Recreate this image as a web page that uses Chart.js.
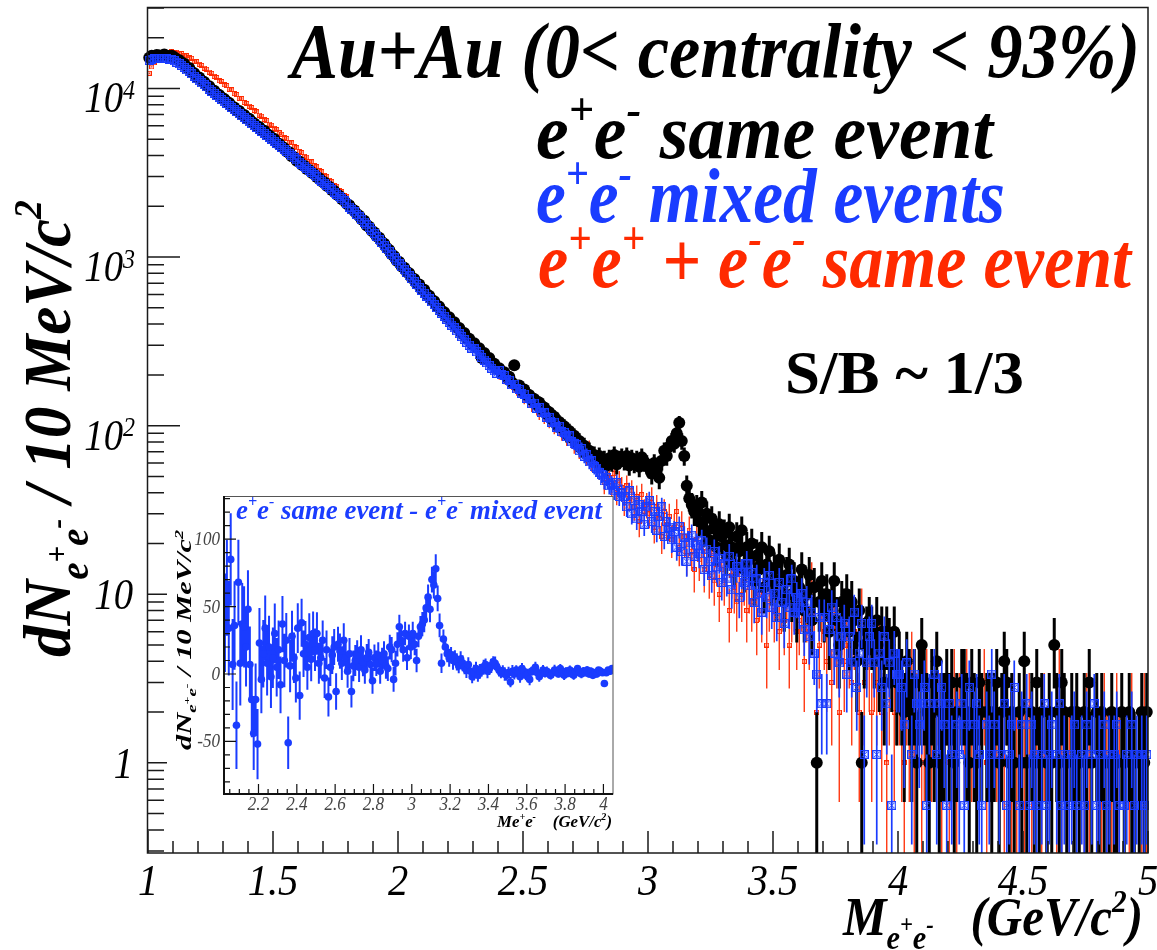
<!DOCTYPE html>
<html>
<head>
<meta charset="utf-8">
<title>Au+Au dielectron invariant mass</title>
<script src="https://cdn.jsdelivr.net/npm/chart.js@4.4.1/dist/chart.umd.min.js"></script>
<style>
  html, body { margin: 0; padding: 0; background: #ffffff; }
  #stage { position: relative; width: 1157px; height: 950px; overflow: hidden; }
  #mainChart { position: absolute; left: 0; top: 0; }
  #insetChart { position: absolute; left: 150px; top: 486px; }
</style>
</head>
<body>
<div id="stage">
  <canvas id="mainChart" width="1157" height="950"></canvas>
  <canvas id="insetChart" width="480" height="360"></canvas>
</div>
<script>
// bin centres, 10 MeV bins
const massBins = [];
for (let i = 0; i < 400; i++) massBins.push(Math.round((1.005 + 0.01 * i) * 1000) / 1000);
const insetBins = [];
for (let i = 0; i < 203; i++) insetBins.push(Math.round((2.025 + 0.01 * i) * 1000) / 1000);

const MIX_NORM = 0.56;

// e+e- same event
const sameEvent = [
  15200, 15600, 15400, 15800, 15700, 15600, 15900, 15600, 15500, 15600,
  15300, 14900, 14700, 14200, 14000, 13300, 13200, 12500, 12300, 11700,
  11600, 11100, 10900, 10400, 10300, 9800, 9700, 9300, 9150, 8800,
  8650, 8350, 8200, 7850, 7700, 7400, 7350, 7000, 6950, 6650,
  6600, 6350, 6200, 5980, 5900, 5620, 5610, 5380, 5250, 5100,
  5010, 4760, 4680, 4530, 4420, 4230, 4180, 3960, 3900, 3720,
  3690, 3520, 3480, 3330, 3280, 3160, 3110, 2980, 2930, 2810,
  2780, 2650, 2610, 2500, 2460, 2350, 2310, 2210, 2160, 2070,
  2030, 1930, 1890, 1800, 1760, 1670, 1640, 1540, 1510, 1430,
  1400, 1330, 1300, 1230, 1200, 1130, 1100, 1040, 1010, 950,
  935, 880, 865, 815, 800, 750, 740, 695, 688, 645,
  640, 602, 590, 557, 546, 512, 508, 478, 470, 442,
  440, 412, 410, 382, 380, 352, 354, 330, 328, 306,
  308, 290, 288, 252, 270, 250, 252, 234, 233, 218,
  219, 206, 207, 194, 195, 181, 228, 173, 173, 161,
  164, 151, 152, 142, 144, 133, 137, 125, 128, 117,
  120, 109, 113, 101, 105, 97, 99, 89, 93, 85,
  87, 79, 81, 73, 76, 69, 71, 65, 67, 63,
  66, 60, 63, 58, 64, 61, 67, 59, 63, 65,
  62, 66, 58, 64, 60, 63, 57, 65, 61, 59,
  56, 52, 60, 54, 49, 62, 71, 66, 75, 81,
  78, 90, 104, 81, 66, 44, 37, 34, 31, 33,
  27, 35, 24, 30, 21, 28, 25, 19, 26, 22,
  23, 17, 25, 19, 15, 22, 18, 24, 14, 19,
  16, 20, 12, 17, 14, 19, 11, 15, 18, 12,
  14, 10, 16, 12, 9, 13, 15, 10, 12, 8,
  11, 14, 8, 10, 13, 7, 11, 1, 9, 12,
  8, 10, 6, 9, 12, 7, 5, 9, 8, 10,
  6, 9, 7, 4, 8, 1, 5, 6, 7, 6,
  5, 7, 4, 6, 3, 6, 5, 4, 6, 3,
  4, 3, 2, 4, 3, 2, 3, 1, 3, 5,
  3, 2, 1, 3, 2, 4, 1, 2, 2, 3,
  2, 3, 1, 2, 0, 3, 3, 2, 1, 3,
  2, 1, 3, 2, 0, 2, 2, 1, 2, 3,
  1, 2, 4, 3, 1, 2, 1, 0, 2, 1,
  4, 1, 0, 2, 1, 3, 1, 2, 0, 1,
  2, 1, 5, 2, 1, 3, 2, 1, 0, 2,
  1, 2, 1, 0, 2, 1, 3, 1, 0, 2,
  1, 2, 1, 0, 1, 2, 1, 1, 0, 2,
  1, 0, 2, 1, 1, 0, 1, 2, 1, 2
];

// e+e- mixed events (normalised)
const mixedEvents = [
  14700, 14900, 15000, 15100, 15100, 15000, 15100, 15000, 14900, 14800,
  14600, 14300, 14000, 13700, 13300, 12900, 12600, 12200, 11800, 11400,
  11100, 10800, 10500, 10200, 9900, 9600, 9350, 9100, 8850, 8600,
  8350, 8150, 7900, 7700, 7480, 7270, 7070, 6880, 6700, 6520,
  6350, 6180, 6020, 5860, 5710, 5560, 5410, 5270, 5130, 5000,
  4860, 4730, 4600, 4470, 4350, 4230, 4110, 3990, 3880, 3770,
  3660, 3560, 3460, 3360, 3260, 3170, 3080, 2990, 2900, 2820,
  2740, 2660, 2580, 2500, 2430, 2360, 2290, 2220, 2150, 2090,
  1980, 1910, 1850, 1790, 1730, 1670, 1610, 1550, 1500, 1440,
  1380, 1320, 1270, 1220, 1170, 1120, 1080, 1030, 990, 950,
  910, 875, 840, 805, 775, 745, 715, 688, 660, 635,
  610, 587, 564, 542, 521, 501, 482, 463, 445, 428,
  411, 395, 380, 365, 351, 337, 324, 312, 300, 288,
  285, 274, 264, 254, 245, 236, 227, 219, 211, 204,
  212, 201, 198, 188, 186, 175, 176, 165, 164, 156,
  154, 145, 144, 135, 136, 127, 128, 120, 119, 112,
  112, 105, 105, 98, 99, 92, 91, 86, 87, 80,
  78, 77, 71, 73, 66, 67, 61, 62, 57, 56,
  53, 51, 47, 49, 44, 45, 41, 46, 38, 40,
  38, 33, 41, 30, 36, 28, 34, 31, 26, 33,
  36, 27, 31, 24, 29, 33, 22, 27, 25, 21,
  23.52, 19.04, 25.2, 17.92, 21.84, 15.68, 20.16, 22.4, 16.8, 19.6,
  17.36, 20.72, 14.0, 18.48, 15.68, 12.88, 17.92, 14.56, 16.24, 11.76,
  15.12, 12.32, 16.8, 10.64, 13.44, 14.56, 9.52, 13.44, 11.76, 15.12,
  11.2, 13.44, 8.96, 12.32, 10.08, 7.84, 11.76, 9.52, 12.88, 8.4,
  10.08, 7.28, 11.76, 8.96, 6.72, 10.64, 8.4, 12.32, 7.84, 9.52,
  8.4, 10.08, 6.16, 8.96, 5.6, 7.84, 4.48, 3.36, 7.28, 2.24,
  7.28, 2.24, 6.16, 8.4, 4.48, 7.28, 3.92, 5.6, 6.72, 3.36,
  5.6, 3.92, 7.84, 2.8, 4.48, 6.72, 1.12, 3.92, 5.6, 6.72,
  3.92, 1.12, 4.48, 2.8, 5.6, 2.24, 3.92, 0.56, 4.48, 3.36,
  3.36, 2.8, 1.68, 3.92, 0, 1.12, 3.36, 2.24, 1.68, 2.24,
  2.8, 0.56, 2.24, 0, 3.36, 1.12, 2.24, 2.8, 1.68, 0.56,
  2.24, 1.12, 0, 1.68, 1.12, 2.24, 0.56, 1.68, 2.8, 0,
  1.68, 2.24, 1.12, 0.56, 0, 1.68, 1.12, 3.36, 1.68, 0,
  1.12, 0, 2.24, 0.56, 1.12, 1.68, 2.8, 0, 0.56, 1.68,
  0, 2.24, 0.56, 1.68, 1.12, 0.56, 0, 1.12, 2.24, 0.56,
  1.12, 1.68, 0, 1.12, 2.24, 0.56, 1.12, 0, 0.56, 1.12,
  1.68, 0.56, 0, 1.12, 0.56, 1.68, 0, 1.12, 2.24, 0.56,
  1.12, 0, 1.68, 0.56, 1.12, 0, 1.12, 1.68, 0.56, 0,
  0.56, 1.12, 0, 1.68, 0.56, 1.12, 0, 1.12, 0.56, 1.12
];

// e+e+ + e-e- same event
const likeSign = [
  12300, 13400, 14200, 15000, 15300, 15800, 15900, 16200, 16200, 16500,
  16300, 16400, 16100, 16100, 15700, 15600, 15200, 15100, 14500, 14400,
  13900, 13700, 13200, 13000, 12500, 12300, 11800, 11600, 11100, 11000,
  10500, 10400, 9900, 9800, 9300, 9200, 8750, 8700, 8250, 8150,
  7850, 7700, 7400, 7250, 6950, 6850, 6550, 6450, 6150, 6050,
  5800, 5700, 5450, 5350, 5100, 5050, 4800, 4750, 4500, 4450,
  4230, 4170, 3960, 3910, 3710, 3670, 3480, 3430, 3260, 3210,
  3050, 3010, 2850, 2810, 2660, 2630, 2480, 2450, 2310, 2290,
  2120, 2090, 1970, 1940, 1820, 1790, 1690, 1660, 1560, 1540,
  1440, 1420, 1330, 1310, 1230, 1210, 1130, 1110, 1030, 1010,
  950, 935, 875, 860, 805, 790, 745, 730, 680, 670,
  630, 625, 580, 575, 540, 530, 495, 490, 458, 452,
  426, 420, 392, 390, 364, 360, 338, 332, 312, 310,
  290, 282, 270, 266, 251, 244, 236, 229, 218, 221,
  201, 209, 190, 188, 181, 176, 170, 163, 159, 166,
  146, 150, 139, 132, 141, 126, 119, 125, 113, 118,
  107, 111, 99, 104, 96, 91, 97, 85, 88, 82,
  77, 84, 72, 75, 70, 66, 73, 61, 64, 58,
  55, 61, 46, 57, 49, 44, 52, 40, 47, 43,
  35, 44, 37, 41, 33, 38, 27, 39, 31, 34,
  30, 37, 25, 33, 28, 22, 31, 26, 29, 21,
  25, 31, 19, 26, 22, 17, 24, 18, 14, 21,
  16, 19, 14, 18, 13, 17, 12, 15, 10, 14,
  12, 15, 8, 13, 11, 9, 14, 10, 12, 8,
  11, 9, 13, 7, 10, 8, 12, 5, 9, 10,
  8, 11, 6, 9, 7, 10, 5, 8, 9, 6,
  7, 9, 4, 8, 6, 12, 7, 2, 5, 8,
  6, 4, 7, 3, 6, 5, 2, 7, 4, 5,
  5, 3, 6, 4, 2, 8, 3, 5, 4, 2,
  4, 3, 5, 2, 4, 1, 3, 4, 2, 3,
  3, 2, 1, 3, 2, 4, 1, 2, 3, 1,
  2, 3, 1, 2, 0, 3, 2, 1, 2, 3,
  1, 2, 3, 1, 2, 0, 2, 3, 1, 2,
  2, 1, 0, 2, 3, 1, 2, 1, 0, 2,
  1, 2, 1, 3, 0, 1, 2, 1, 2, 0,
  1, 0, 2, 1, 1, 2, 0, 1, 2, 1,
  2, 1, 0, 1, 3, 1, 2, 0, 1, 2,
  1, 2, 1, 0, 1, 2, 1, 1, 0, 1,
  0, 1, 2, 1, 0, 1, 1, 2, 1, 0,
  1, 0, 1, 2, 1, 0, 1, 1, 2, 1
];

// inset: same event - mixed event, 2.02-4.05 GeV/c2
const subtracted = [
  38, 64, 34, 85, 7, 36, -38, 68,
  8, 37, 35, 20, 48, 7, -19, -44, -19, -52,
  23, -4, 15, 34, 8, 20, -2, 12, 30, 5,
  18, -8, 37, 10, 25, -51, 6, 28, 12, -3,
  34, -16, 38, 15, 22, 5, 27, 11, 30, 18,
  30, 8, 12, 25, -3, 18, -17, 5, 14, 20,
  -13, 22, 17, 8, 25, 12, 2, 15, -13, 6,
  10, 14, 5, 18, 9, 3, 12, 16, 7, -5,
  12, 8, 14, 2, 10, 15, 6, 4, 20, 18,
  -4, 8, 22, 35, 25, 18, 30, 12, 28, 20,
  30, 22, 10, 28, 35, 37, 40, 49, 57, 48,
  70, 66, 78, 56, 36, 8, 26, 20, 15, 12,
  14, 10, 12, 9, 6, 11, 8, 5, 3, 7,
  2, -2, 1, 4, -1, 2, 3, 5, 7, 2,
  4, 6, 9, 8, 5, 3, 1, 2, 0, -1,
  1, -6, 2, 0, 3, 1, -2, 4, 2, -1,
  0, -4, 2, 3, 5, 1, -2, 0, 3, 1,
  2, 0, -1, 1, 3, 2, 0, 4, 1, -1,
  2, 1, 3, 0, -1, 2, 4, 1, 0, 2,
  1, 3, 0, 2, -1, 1, 0, 3, 2, 1,
  -7, 1, 3, 2, 4
];

const xTickLabels = [1, 1.5, 2, 2.5, 3, 3.5, 4, 4.5, 5];
const yTickDecades = [1, 10, 100, 1000, 10000];
const insetXTickLabels = [2.2, 2.4, 2.6, 2.8, 3, 3.2, 3.4, 3.6, 3.8, 4];
const insetYTickLabels = [-50, 0, 50, 100];

const BLACK = '#000000';
const BLUE = '#1a3cff';
const RED = '#ff2a00';

// Poisson errors
const sameErr = sameEvent.map(v => Math.sqrt(v));
const mixedErr = mixedEvents.map(v => Math.sqrt(v * MIX_NORM));
const likeErr = likeSign.map(v => Math.sqrt(v));
const subErr = insetBins.map(m => {
  const j = Math.round((m - 1.005) / 0.01);
  return Math.sqrt(sameEvent[j] + MIX_NORM * mixedEvents[j]);
});

function toPoints(xs, ys, logScale) {
  return xs.map((x, i) => ({ x: x, y: (logScale && !(ys[i] > 0)) ? null : ys[i] }));
}

function boxMarker(size, color, cross, lw) {
  const c = document.createElement('canvas');
  c.width = size;
  c.height = size;
  const g = c.getContext('2d');
  g.strokeStyle = color;
  g.lineWidth = lw;
  g.strokeRect(lw / 2, lw / 2, size - lw, size - lw);
  if (cross) {
    g.lineWidth = 1;
    g.beginPath();
    g.moveTo(2, 2); g.lineTo(size - 2, size - 2);
    g.moveTo(size - 2, 2); g.lineTo(2, size - 2);
    g.stroke();
  }
  return c;
}
const blueMarker = boxMarker(9, BLUE, true, 1.3);
const redMarker = boxMarker(5, RED, false, 1.1);

// text with super/subscripts
const SEG = { n: [1, 0], sup: [0.6, -0.42], sub: [0.62, 0.26], ssup: [0.46, -0.04], tsup: [0.62, -0.3] };
function drawRich(ctx, segs, o) {
  ctx.save();
  ctx.translate(o.x, o.y);
  if (o.rot) ctx.rotate(o.rot);
  let total = 0;
  const parts = segs.map(s => {
    const k = SEG[s[1] || 'n'];
    const font = (o.style || '') + ' ' + (o.size * k[0]).toFixed(2) + 'px "Liberation Serif", "Times New Roman", serif';
    ctx.font = font;
    const w = ctx.measureText(s[0]).width;
    const p = { t: s[0], font: font, x: total, dy: k[1] * o.size };
    total += w;
    return p;
  });
  const sx = o.width ? o.width / total : (o.sx || 1);
  const w = total * sx;
  const x0 = o.align === 'right' ? -w : (o.align === 'center' ? -w / 2 : 0);
  ctx.translate(x0, 0);
  ctx.scale(sx, 1);
  ctx.fillStyle = o.color || BLACK;
  ctx.textAlign = 'left';
  ctx.textBaseline = 'alphabetic';
  parts.forEach(p => { ctx.font = p.font; ctx.fillText(p.t, p.x, p.dy); });
  ctx.restore();
}

const errorBars = {
  id: 'errorBars',
  beforeDatasetDraw(chart, args) {
    const ds = chart.data.datasets[args.index];
    if (!ds.errors) return;
    const ctx = chart.ctx;
    const a = chart.chartArea;
    const ys = chart.scales.y;
    const logY = ys.type === 'logarithmic';
    ctx.save();
    ctx.beginPath();
    ctx.rect(a.left, a.top, a.right - a.left, a.bottom - a.top);
    ctx.clip();
    ctx.strokeStyle = ds.errorColor;
    ctx.lineWidth = ds.errorWidth;
    ctx.beginPath();
    args.meta.data.forEach((pt, j) => {
      const v = ds.data[j].y;
      if (v === null) return;
      const e = ds.errors[j];
      const top = ys.getPixelForValue(v + e);
      const bot = (logY && v - e <= 0) ? a.bottom : Math.min(ys.getPixelForValue(v - e), a.bottom);
      ctx.moveTo(pt.x, top);
      ctx.lineTo(pt.x, bot);
    });
    ctx.stroke();
    ctx.restore();
  }
};

const mainFrame = {
  id: 'mainFrame',
  afterDatasetsDraw(chart) {
    const { ctx, chartArea: a, scales: { x, y } } = chart;
    ctx.save();
    ctx.strokeStyle = '#1a1a1a';
    ctx.lineWidth = 1.5;
    ctx.strokeRect(a.left - 0.5, a.top + 0.5, a.right - a.left + 0.5, a.bottom - a.top - 0.5);
    ctx.beginPath();
    for (let k = 0; k <= 40; k++) {
      const px = x.getPixelForValue(1 + k * 0.1);
      ctx.moveTo(px, a.bottom);
      ctx.lineTo(px, a.bottom - (k % 5 === 0 ? 22 : 12));
    }
    [0.1, 1, 10, 100, 1000, 10000].forEach(d => {
      for (let m = 1; m <= 9; m++) {
        const v = m * d;
        if (v < y.min || v > y.max) continue;
        const py = y.getPixelForValue(v);
        const len = m === 1 ? (d >= 100 ? 32 : 19) : 16;
        ctx.moveTo(a.left, py);
        ctx.lineTo(a.left + len, py);
      }
    });
    ctx.stroke();
    ctx.restore();
  },
  afterDraw(chart) {
    const { ctx, scales: { x, y } } = chart;
    xTickLabels.forEach(v => {
      drawRich(ctx, [[String(v)]], { x: x.getPixelForValue(v), y: 895, size: 44, style: 'italic', align: 'center', sx: 0.92 });
    });
    yTickDecades.forEach(v => {
      const py = y.getPixelForValue(v);
      const n = Math.round(Math.log10(v));
      if (n >= 2) {
        drawRich(ctx, [['10'], [String(n), 'tsup']], { x: 135, y: py + 24, size: 44, style: 'italic', align: 'right', sx: 0.88 });
      } else {
        drawRich(ctx, [[String(v)]], { x: 133, y: py + 15, size: 44, style: 'italic', align: 'right', sx: 0.88 });
      }
    });
    drawRich(ctx, [['Au+Au (0< centrality < 93%)']], { x: 291, y: 77, size: 78, style: 'italic bold', width: 849 });
    drawRich(ctx, [['e'], ['+', 'sup'], ['e'], ['-', 'sup'], [' same event']],
      { x: 536, y: 158, size: 78, style: 'italic bold', width: 457 });
    drawRich(ctx, [['e'], ['+', 'sup'], ['e'], ['-', 'sup'], [' mixed events']],
      { x: 536, y: 222, size: 78, style: 'italic bold', width: 469, color: BLUE });
    drawRich(ctx, [['e'], ['+', 'sup'], ['e'], ['+', 'sup'], [' + '], ['e'], ['-', 'sup'], ['e'], ['-', 'sup'], [' same event']],
      { x: 538, y: 287, size: 78, style: 'italic bold', width: 593, color: RED });
    drawRich(ctx, [['S/B ~ 1/3']], { x: 785, y: 393, size: 62, style: 'bold', width: 239 });
    drawRich(ctx, [['dN'], ['e', 'sub'], ['+', 'ssup'], ['e', 'sub'], ['-', 'ssup'], [' / 10 MeV/c'], ['2', 'sup']],
      { x: 70, y: 657, size: 68, style: 'italic bold', width: 457, rot: -Math.PI / 2 });
    drawRich(ctx, [['M'], ['e', 'sub'], ['+', 'ssup'], ['e', 'sub'], ['-', 'ssup'], ['   (GeV/c'], ['2', 'sup'], [')']],
      { x: 843, y: 935, size: 54, style: 'italic bold', width: 300 });
  }
};

new Chart(document.getElementById('mainChart'), {
  type: 'scatter',
  data: {
    datasets: [
      {
        label: 'e+e- same event',
        data: toPoints(massBins, sameEvent, true),
        errors: sameErr, errorColor: BLACK, errorWidth: 3,
        pointStyle: 'circle', pointRadius: 6, backgroundColor: BLACK, borderWidth: 0,
        order: 2, clip: false
      },
      {
        label: 'e+e- mixed events',
        data: toPoints(massBins, mixedEvents, true),
        errors: mixedErr, errorColor: BLUE, errorWidth: 1.7,
        pointStyle: blueMarker, pointRadius: 4.5, borderWidth: 0,
        order: 1, clip: false
      },
      {
        label: 'e+e+ + e-e- same event',
        data: toPoints(massBins, likeSign, true),
        errors: likeErr, errorColor: RED, errorWidth: 1.3,
        pointStyle: redMarker, pointRadius: 3, borderWidth: 0,
        order: 3, clip: false
      }
    ]
  },
  options: {
    responsive: false,
    animation: false,
    events: [],
    layout: { padding: { left: 148, right: 9, top: 7, bottom: 97 } },
    scales: {
      x: { type: 'linear', min: 1, max: 5, display: false },
      y: { type: 'logarithmic', min: 0.292, max: 30400, display: false }
    },
    plugins: { legend: { display: false }, tooltip: { enabled: false } }
  },
  plugins: [errorBars, mainFrame]
});

// inset
const OX = 150, OY = 486;
const insetFrame = {
  id: 'insetFrame',
  beforeDraw(chart) {
    const { ctx, chartArea: a } = chart;
    ctx.save();
    ctx.fillStyle = '#ffffff';
    ctx.fillRect(a.left, a.top, a.right - a.left, a.bottom - a.top);
    ctx.restore();
  },
  afterDatasetsDraw(chart) {
    const { ctx, chartArea: a, scales: { x, y } } = chart;
    ctx.save();
    ctx.strokeStyle = '#555555';
    ctx.lineWidth = 1;
    ctx.strokeRect(a.left + 0.5, a.top + 0.5, a.right - a.left - 0.5, a.bottom - a.top - 0.5);
    ctx.strokeStyle = '#111111';
    ctx.lineWidth = 2;
    ctx.beginPath();
    ctx.moveTo(a.left, a.top); ctx.lineTo(a.left, a.bottom); ctx.lineTo(a.right, a.bottom);
    ctx.stroke();
    ctx.lineWidth = 1.2;
    ctx.beginPath();
    for (let k = 1; k <= 40; k++) {
      const v = 2.0 + k * 0.05;
      if (v > x.max) break;
      const px = x.getPixelForValue(v);
      ctx.moveTo(px, a.bottom);
      ctx.lineTo(px, a.bottom - (k % 4 === 0 ? 10 : 5));
    }
    for (let v = -80; v <= 130; v += 10) {
      const py = y.getPixelForValue(v);
      ctx.moveTo(a.left, py);
      ctx.lineTo(a.left + (v % 50 === 0 ? 12 : 6), py);
    }
    ctx.stroke();
    ctx.restore();
  },
  afterDraw(chart) {
    const { ctx, scales: { x, y } } = chart;
    insetXTickLabels.forEach(v => {
      drawRich(ctx, [[String(v)]], { x: x.getPixelForValue(v), y: 810 - OY, size: 18, style: 'italic', align: 'center', color: '#444444', sx: 0.95 });
    });
    insetYTickLabels.forEach(v => {
      drawRich(ctx, [[String(v)]], { x: 220 - OX, y: y.getPixelForValue(v) + 6, size: 18, style: 'italic', align: 'right', color: '#444444', sx: 0.95 });
    });
    drawRich(ctx, [['e'], ['+', 'sup'], ['e'], ['-', 'sup'], [' same event - '], ['e'], ['+', 'sup'], ['e'], ['-', 'sup'], [' mixed event']],
      { x: 236 - OX, y: 519 - OY, size: 28, style: 'italic bold', width: 366, color: BLUE });
    drawRich(ctx, [['dN'], ['e', 'sub'], ['+', 'ssup'], ['e', 'sub'], ['-', 'ssup'], [' / 10 MeV/c'], ['2', 'sup']],
      { x: 191 - OX, y: 750 - OY, size: 20, style: 'italic bold', width: 220, rot: -Math.PI / 2 });
    drawRich(ctx, [['Me'], ['+', 'sup'], ['e'], ['-', 'sup'], ['    (GeV/c'], ['2', 'sup'], [')']],
      { x: 497 - OX, y: 827 - OY, size: 17, style: 'italic bold', width: 115 });
  }
};

new Chart(document.getElementById('insetChart'), {
  type: 'scatter',
  data: {
    datasets: [
      {
        label: 'e+e- same event - e+e- mixed event',
        data: toPoints(insetBins, subtracted, false),
        errors: subErr, errorColor: BLUE, errorWidth: 2,
        pointStyle: 'circle', pointRadius: 3.8, backgroundColor: BLUE, borderWidth: 0
      }
    ]
  },
  options: {
    responsive: false,
    animation: false,
    events: [],
    layout: { padding: { left: 74, right: 17, top: 10, bottom: 52 } },
    scales: {
      x: { type: 'linear', min: 2.02, max: 4.05, display: false },
      y: { type: 'linear', min: -89, max: 132, display: false }
    },
    plugins: { legend: { display: false }, tooltip: { enabled: false } }
  },
  plugins: [errorBars, insetFrame]
});
</script>
</body>
</html>
